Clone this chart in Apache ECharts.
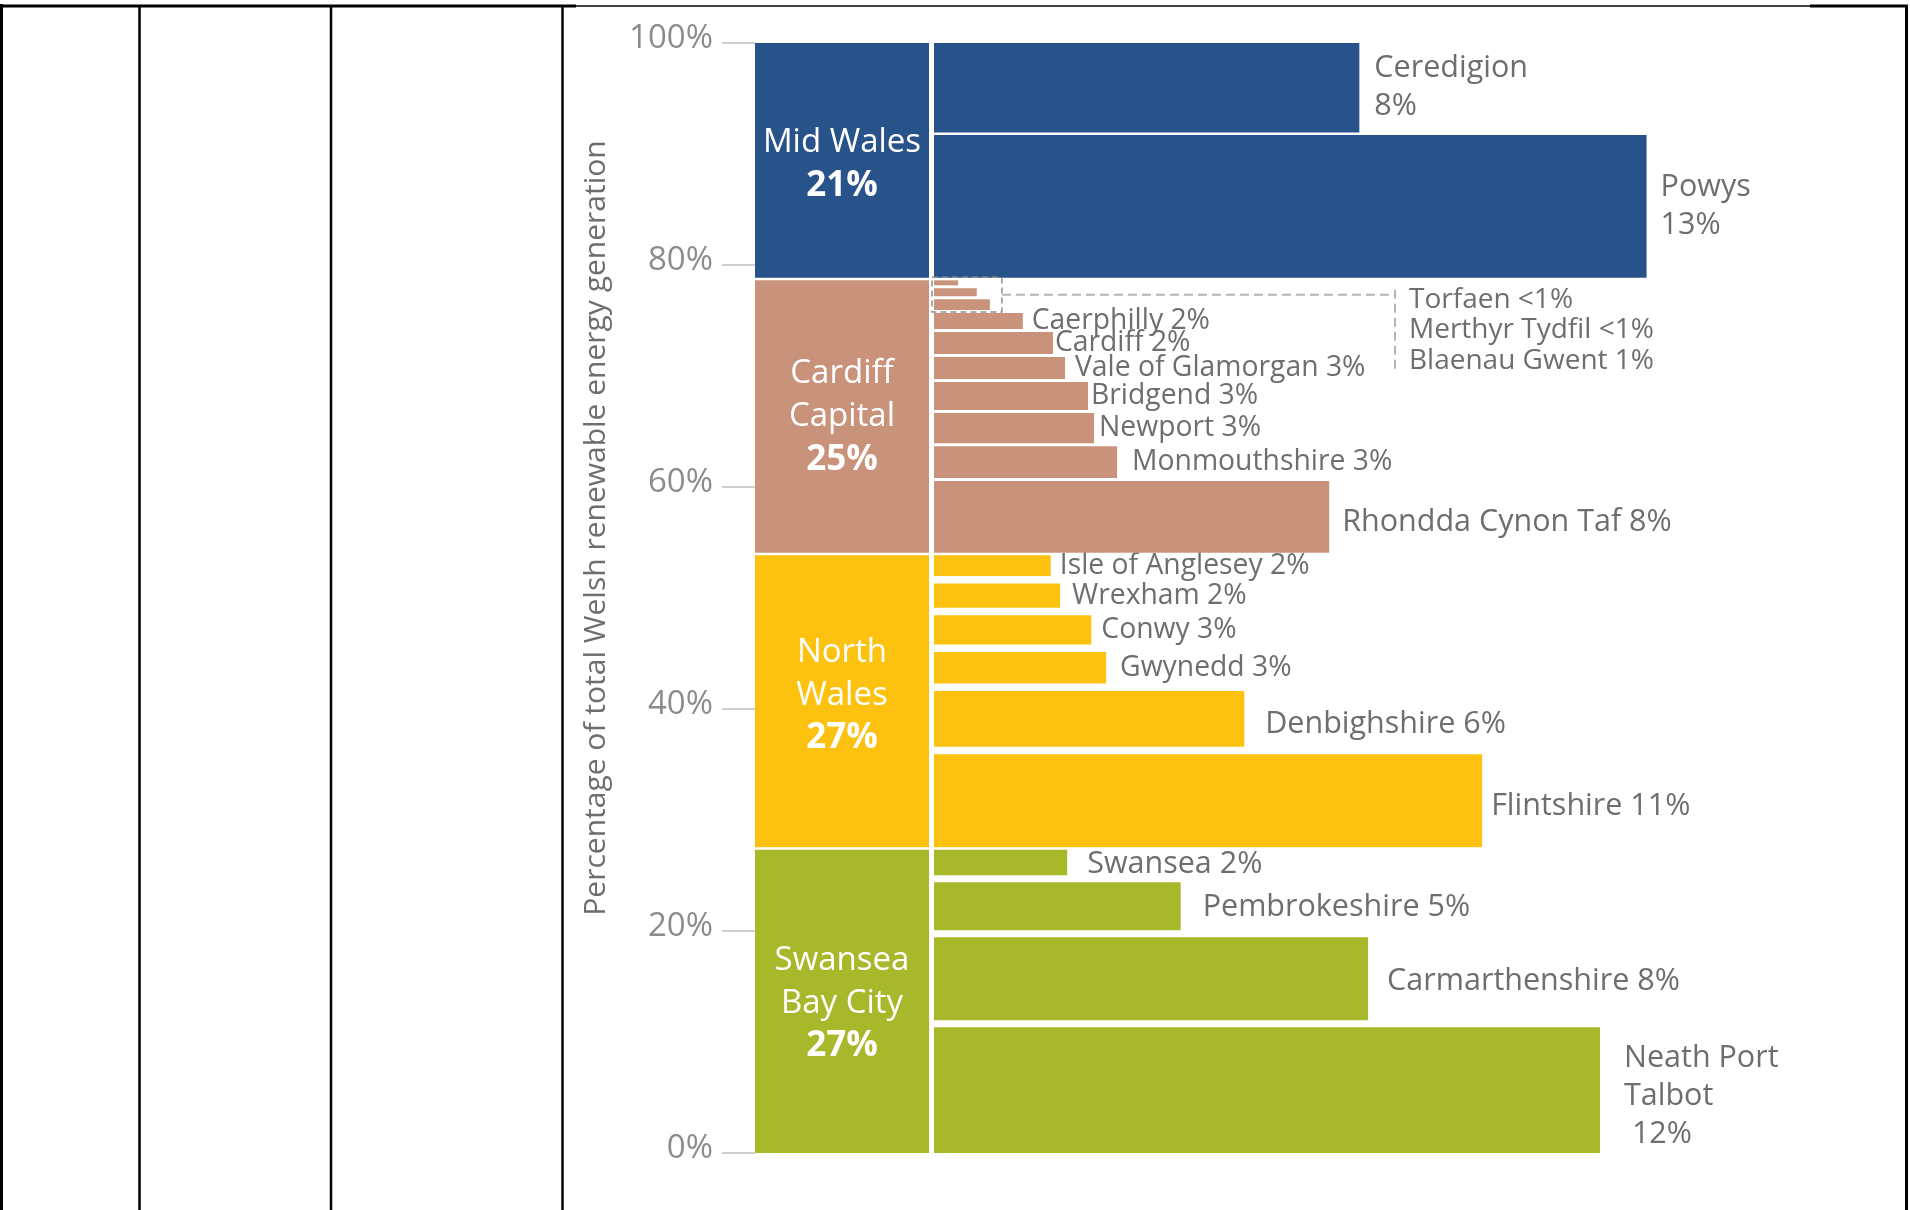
<!DOCTYPE html>
<html>
<head>
<meta charset="utf-8">
<script src="https://cdn.jsdelivr.net/npm/echarts@6/dist/echarts.min.js"></script>
<style>
  html, body { margin: 0; padding: 0; background: #fff; }
  #chart { width: 1910px; height: 1210px; }
</style>
</head>
<body>
<div id="chart"></div>
<script>
// ---------------- DATA ----------------
// Regions, stacked bottom -> top (share of total Welsh renewable generation, %)
const regionNames = ['Swansea Bay City', 'North Wales', 'Cardiff Capital', 'Mid Wales'];
const regionShare = [27.33, 26.52, 24.77, 21.38];
const regionPct = ['27%', '27%', '25%', '21%'];

// Local authorities, stacked bottom -> top
const authorityNames = ['Neath Port Talbot', 'Carmarthenshire', 'Pembrokeshire', 'Swansea',
  'Flintshire', 'Denbighshire', 'Gwynedd', 'Conwy', 'Wrexham', 'Isle of Anglesey',
  'Rhondda Cynon Taf', 'Monmouthshire', 'Newport', 'Bridgend', 'Vale of Glamorgan', 'Cardiff',
  'Caerphilly', 'Blaenau Gwent', 'Merthyr Tydfil', 'Torfaen',
  'Powys', 'Ceredigion'];
const authorityRegion = [0, 0, 0, 0, 1, 1, 1, 1, 1, 1, 2, 2, 2, 2, 2, 2, 2, 2, 2, 2, 3, 3];
// vertical extent of each bar (% of total)
const authorityShare = [11.32, 8.11, 4.96, 2.94, 8.59, 5.70, 3.52, 3.30, 2.86, 2.55,
  6.69, 3.13, 3.00, 2.79, 2.25, 2.25, 1.72, 1.23, 0.99, 0.72, 13.09, 8.29];
// horizontal length of each bar (% of total)
const authorityLength = [12.15, 7.92, 4.50, 2.43, 10.00, 5.66, 3.14, 2.87, 2.30, 2.13,
  7.21, 3.34, 2.92, 2.81, 2.39, 2.17, 1.62, 1.02, 0.78, 0.44, 13.00, 7.76];
const authorityPct = ['12%', '8%', '5%', '2%', '11%', '6%', '3%', '3%', '2%', '2%',
  '8%', '3%', '3%', '3%', '3%', '2%', '2%', '1%', '<1%', '<1%', '13%', '8%'];

const yTickValues = [0, 20, 40, 60, 80, 100];
const yTickLabels = ['0%', '20%', '40%', '60%', '80%', '100%'];
const yAxisTitle = 'Percentage of total Welsh renewable energy generation';

// ---------------- STYLE ----------------
const FONT = "'Open Sans', sans-serif";
const STYLE = {
  regionColors: ['#a8b82b', '#fcc20f', '#c8937a', '#28538a'],
  innerGap: [7, 7.5, 3, 2.5],
  regionGap: 2.5,
  textColor: '#6e6e6e',
  regionLabelDy: [2, -6, 0, 4],
  bigLabel: ['Neath Port Talbot', 'Carmarthenshire', 'Pembrokeshire', 'Swansea', 'Flintshire',
    'Denbighshire', 'Rhondda Cynon Taf', 'Powys', 'Ceredigion'],
  labelGap: {
    'Neath Port Talbot': 24, 'Carmarthenshire': 19, 'Pembrokeshire': 22, 'Swansea': 20,
    'Flintshire': 9, 'Denbighshire': 21, 'Gwynedd': 14, 'Conwy': 10, 'Wrexham': 12,
    'Isle of Anglesey': 9, 'Rhondda Cynon Taf': 13, 'Monmouthshire': 15, 'Newport': 5,
    'Bridgend': 3, 'Vale of Glamorgan': 0, 'Cardiff': 2, 'Caerphilly': 9,
    'Ceredigion': 15, 'Powys': 14
  },
  labelDy: {
    'Rhondda Cynon Taf': 5, 'Flintshire': 6, 'Denbighshire': 5, 'Neath Port Talbot': 6,
    'Carmarthenshire': 2, 'Swansea': 2, 'Pembrokeshire': 1
  },
  labelWrap: {
    'Neath Port Talbot': 'Neath Port\nTalbot\n {p}',
    'Powys': '{n}\n{p}',
    'Ceredigion': '{n}\n{p}'
  },
  regionWrap: {
    'Swansea Bay City': 'Swansea\nBay City', 'North Wales': 'North\nWales',
    'Cardiff Capital': 'Cardiff\nCapital', 'Mid Wales': 'Mid Wales'
  },
  callout: ['Torfaen', 'Merthyr Tydfil', 'Blaenau Gwent'],
  calloutX: 1395
};

// ---------------- BUILD ----------------
const regionData = [];
let acc = 0;
regionShare.forEach((s, i) => { regionData.push([0.5, acc, acc + s, i]); acc += s; });

const authorityData = [];
acc = 0;
authorityShare.forEach((s, i) => { authorityData.push([authorityLength[i], acc, acc + s, i]); acc += s; });

const calloutIdx = STYLE.callout.map(n => authorityNames.indexOf(n));
const calloutTop = Math.max(...calloutIdx.map(i => authorityData[i][2]));
const calloutBottom = Math.min(...calloutIdx.map(i => authorityData[i][1]));
const calloutLen = Math.max(...calloutIdx.map(i => authorityLength[i]));

function renderRegion(params, api) {
  const i = api.value(3);
  const s0 = api.value(1), s1 = api.value(2);
  const pTL = api.coord([0, s1]);
  const pBR = api.coord([1, s0]);
  const gap = s0 <= 0 ? 0 : STYLE.regionGap;
  const x = pTL[0], y = pTL[1], w = pBR[0] - pTL[0], h = pBR[1] - gap - pTL[1];
  const lines = STYLE.regionWrap[regionNames[i]].split('\n').map(l => '{n|' + l + '}');
  lines.push('{p|' + regionPct[i] + '}');
  return {
    type: 'group',
    children: [
      { type: 'rect', shape: { x, y, width: w, height: h }, style: { fill: STYLE.regionColors[i] } },
      {
        type: 'text', x: x + w / 2, y: y + h / 2 + STYLE.regionLabelDy[i],
        style: {
          text: lines.join('\n'), align: 'center', verticalAlign: 'middle',
          rich: {
            n: { fontFamily: FONT, fontSize: 33, lineHeight: 43, fill: '#ffffff' },
            p: { fontFamily: FONT, fontSize: 35, fontWeight: 'bold', lineHeight: 43, fill: '#ffffff' }
          }
        }
      }
    ]
  };
}

function renderAuthority(params, api) {
  const i = api.value(3);
  const len = api.value(0), s0 = api.value(1), s1 = api.value(2);
  const r = authorityRegion[i];
  const pTop = api.coord([len, s1]);
  const pBot = api.coord([0, s0]);
  const lastInRegion = (i === 0) || authorityRegion[i - 1] !== r;
  const gap = s0 <= 0 ? 0 : (lastInRegion ? STYLE.regionGap : STYLE.innerGap[r]);
  const x0 = pBot[0], y0 = pTop[1];
  const w = pTop[0] - pBot[0], h = pBot[1] - gap - pTop[1];
  const children = [
    { type: 'rect', shape: { x: x0, y: y0, width: w, height: h }, style: { fill: STYLE.regionColors[r] } }
  ];
  const name = authorityNames[i];
  if (STYLE.callout.indexOf(name) < 0) {
    const tpl = STYLE.labelWrap[name] || '{n} {p}';
    const text = tpl.replace('{n}', name).replace('{p}', authorityPct[i]);
    const big = STYLE.bigLabel.indexOf(name) >= 0;
    children.push({
      type: 'text', x: pTop[0] + (STYLE.labelGap[name] || 10), y: y0 + h / 2 + (STYLE.labelDy[name] || 0),
      style: {
        text, align: 'left', verticalAlign: 'middle',
        fontFamily: FONT, fontSize: big ? 30.5 : 28.3, lineHeight: 38, fill: STYLE.textColor
      }
    });
  }
  return { type: 'group', children };
}

function renderCallout(params, api) {
  const len = api.value(0), s0 = api.value(1), s1 = api.value(2);
  const pTop = api.coord([len, s1]);
  const pBot = api.coord([0, s0]);
  const left = pBot[0] - 2, right = pTop[0] + 12;
  const top = pTop[1] - 3, bottom = pBot[1] - 1;
  const mid = (top + bottom) / 2;
  const cx = STYLE.calloutX;
  const children = [
    { type: 'rect', shape: { x: left, y: top, width: right - left, height: bottom - top },
      style: { fill: 'none', stroke: '#8f8f8f', lineWidth: 1.5, lineDash: [6, 4] } },
    { type: 'line', shape: { x1: right, y1: mid, x2: cx, y2: mid },
      style: { stroke: '#b5b5b5', lineWidth: 2, lineDash: [9, 5] } },
    { type: 'line', shape: { x1: cx, y1: mid - 5, x2: cx, y2: mid + 78 },
      style: { stroke: '#b5b5b5', lineWidth: 2, lineDash: [9, 5] } }
  ];
  STYLE.callout.forEach((n, k) => {
    const i = authorityNames.indexOf(n);
    children.push({
      type: 'text', x: cx + 14, y: mid + 5 + k * 30.8,
      style: { text: n + ' ' + authorityPct[i], align: 'left', verticalAlign: 'middle',
        fontFamily: FONT, fontSize: 28, fill: STYLE.textColor }
    });
  });
  return { type: 'group', children };
}

const chart = echarts.init(document.getElementById('chart'), null, { renderer: 'canvas' });

const borderLines = [
  [1.5, 4, 1.5, 1210, 3], [139.5, 5, 139.5, 1210, 2.5], [331, 5, 331, 1210, 2.5],
  [562.5, 5, 562.5, 1210, 2.5], [1906.5, 5, 1906.5, 1210, 3],
  [0, 6, 576, 6, 3], [576, 6, 1810, 6, 1.5], [1810, 6, 1908, 6, 3]
];

chart.setOption({
  animation: false,
  backgroundColor: '#ffffff',
  grid: [
    { left: 755, top: 43, width: 174, height: 1110 },
    { left: 934, top: 43, width: 877, height: 1110 }
  ],
  xAxis: [
    { gridIndex: 0, type: 'value', min: 0, max: 1, show: false },
    { gridIndex: 1, type: 'value', min: 0, max: 16, show: false }
  ],
  yAxis: [
    {
      gridIndex: 0, type: 'value', min: 0, max: 100, interval: 20,
      axisLine: { show: false },
      axisTick: { show: true, length: 33, lineStyle: { color: '#cfcfcf', width: 2 } },
      splitLine: { show: false },
      axisLabel: {
        margin: 42, fontSize: 33, fontFamily: FONT, color: '#8c8c8c',
        verticalAlign: 'bottom', lineHeight: 8,
        formatter: v => yTickLabels[yTickValues.indexOf(v)]
      }
    },
    { gridIndex: 1, type: 'value', min: 0, max: 100, show: false }
  ],
  series: [
    {
      type: 'custom', xAxisIndex: 0, yAxisIndex: 0, silent: true,
      encode: { x: 0, y: [1, 2] },
      renderItem: renderRegion, data: regionData, z: 3
    },
    {
      type: 'custom', xAxisIndex: 1, yAxisIndex: 1, silent: true,
      encode: { x: 0, y: [1, 2] },
      renderItem: renderAuthority, data: authorityData, z: 3
    },
    {
      type: 'custom', xAxisIndex: 1, yAxisIndex: 1, silent: true,
      encode: { x: 0, y: [1, 2] },
      renderItem: renderCallout, data: [[calloutLen, calloutBottom, calloutTop]], z: 4
    }
  ],
  graphic: borderLines.map(l => ({
    type: 'line', silent: true, z: 10,
    shape: { x1: l[0], y1: l[1], x2: l[2], y2: l[3] },
    style: { stroke: '#000000', lineWidth: l[4] }
  })).concat([{
    type: 'text', silent: true, x: 596, y: 528, rotation: Math.PI / 2,
    style: { text: yAxisTitle, fontFamily: FONT, fontSize: 30, fill: STYLE.textColor,
      align: 'center', verticalAlign: 'middle' }
  }])
});
</script>
</body>
</html>
